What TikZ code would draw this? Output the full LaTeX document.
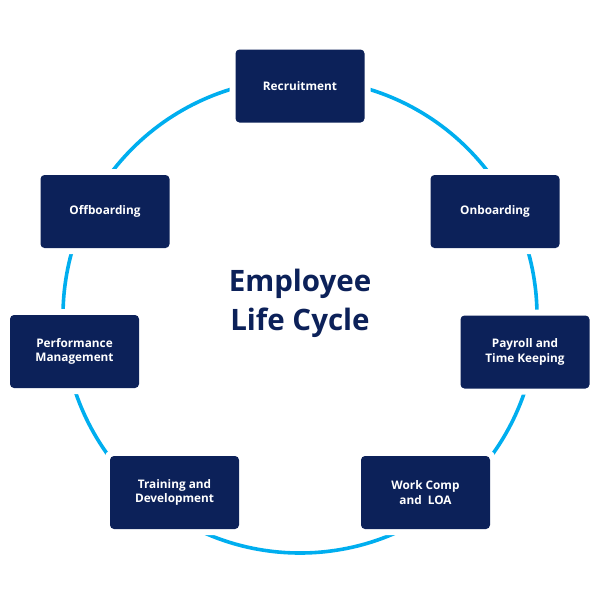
\documentclass[tikz,border=0pt]{standalone}
\usepackage{fontspec}
\setmainfont{Open Sans}
\usepackage{xcolor}
\definecolor{LCNavy}{HTML}{0C2159}
\definecolor{LCCyan}{HTML}{00AEEF}
\tikzset{
  stagebox/.style={fill=LCNavy, text=white, rounded corners=4pt,
    minimum width=129pt, minimum height=73pt, inner sep=2pt,
    align=center, font=\bfseries\fontsize{11.8}{14.5}\selectfont,
    preaction={draw=white, line width=12pt}},
  cycleline/.style={draw=LCCyan, line width=3.6pt}
}

\begin{document}
\begin{tikzpicture}[x=1pt, y=-1pt]
\useasboundingbox (0,0) rectangle (600,600);
\coordinate (M) at (300,316);
\draw[cycleline] (M) circle[radius=237pt];
\node[stagebox] (rec) at (300,86) {Recruitment};
\node[stagebox] (onb) at (495,211.5) {Onboarding};
\node[stagebox] (pay) at (525,352) {Payroll and\\Time Keeping};
\node[stagebox] (wrk) at (425.5,492.5) {Work Comp\\and~~LOA};
\node[stagebox] (trn) at (174.5,492.5) {Training and\\Development};
\node[stagebox] (perf) at (74.5,351.5) {Performance\\Management};
\node[stagebox] (off) at (105,211.5) {Offboarding};
\node[text=LCNavy, align=center, font=\bfseries\fontsize{29.5}{39}\selectfont] (title) at (300,303.5) {Employee\\Life Cycle};
\end{tikzpicture}
\end{document}
